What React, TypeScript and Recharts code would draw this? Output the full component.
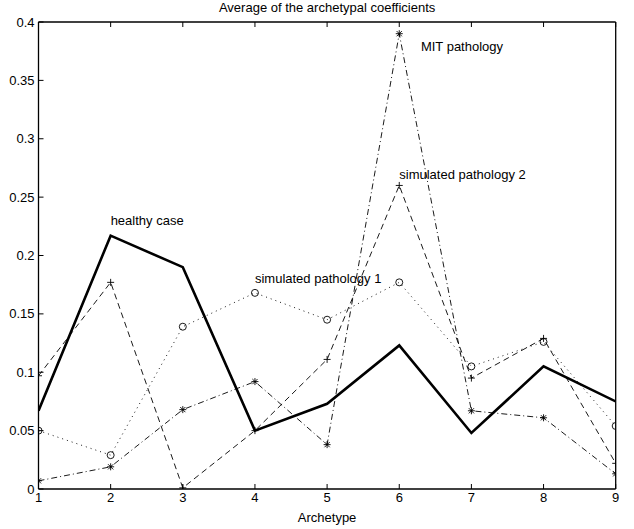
import React from 'react'
import { Label, Line, LineChart, ReferenceDot, XAxis, YAxis } from 'recharts'

const archetypes = [1, 2, 3, 4, 5, 6, 7, 8, 9]
const healthyCase = [0.067, 0.217, 0.19, 0.05, 0.073, 0.123, 0.048, 0.105, 0.075]
const simulatedPathology1 = [0.05, 0.029, 0.139, 0.168, 0.145, 0.177, 0.105, 0.126, 0.054]
const simulatedPathology2 = [0.097, 0.177, 0.001, 0.05, 0.111, 0.26, 0.095, 0.129, 0.022]
const mitPathology = [0.007, 0.019, 0.068, 0.092, 0.038, 0.39, 0.067, 0.061, 0.013]
const yTicks = [0, 0.05, 0.1, 0.15, 0.2, 0.25, 0.3, 0.35, 0.4]

const annotations = [
  { x: 2.0, y: 0.23, text: 'healthy case' },
  { x: 4.0, y: 0.18, text: 'simulated pathology 1' },
  { x: 6.3, y: 0.379, text: 'MIT pathology' },
  { x: 6.0, y: 0.269, text: 'simulated pathology 2' },
]

const data = archetypes.map((x, i) => ({
  x,
  healthy: healthyCase[i],
  sim1: simulatedPathology1[i],
  sim2: simulatedPathology2[i],
  mit: mitPathology[i],
}))

const FONT = '"Liberation Sans", Arial, sans-serif'
const tickStyle = { fill: '#000', fontSize: 13, fontFamily: FONT }

const CircleDot = (props: any) => (
  <circle key={props.key} cx={props.cx} cy={props.cy} r={3.5} fill="none" stroke="#000" strokeWidth={0.9} />
)

const PlusDot = (props: any) => {
  const { cx, cy } = props
  return (
    <g key={props.key} stroke="#000" strokeWidth={0.9}>
      <line x1={cx - 3.5} y1={cy} x2={cx + 3.5} y2={cy} />
      <line x1={cx} y1={cy - 3.5} x2={cx} y2={cy + 3.5} />
    </g>
  )
}

const StarDot = (props: any) => {
  const { cx, cy } = props
  const d = 2.6
  return (
    <g key={props.key} stroke="#000" strokeWidth={0.9}>
      <line x1={cx - 3.5} y1={cy} x2={cx + 3.5} y2={cy} />
      <line x1={cx} y1={cy - 3.5} x2={cx} y2={cy + 3.5} />
      <line x1={cx - d} y1={cy - d} x2={cx + d} y2={cy + d} />
      <line x1={cx - d} y1={cy + d} x2={cx + d} y2={cy - d} />
    </g>
  )
}

const AnnotationText = ({ viewBox, value }: any) => (
  <text x={viewBox.x} y={viewBox.y} dy="0.35em" fontSize={13} fontFamily={FONT} fill="#000" textAnchor="start">
    {value}
  </text>
)

export default function App() {
  return (
    <div style={{ position: 'absolute', left: 0, top: 0, background: '#fff' }}>
      <LineChart width={634} height={529} data={data} margin={{ top: 0, right: 0, bottom: 0, left: 0 }}>
        <XAxis
          dataKey="x"
          type="number"
          domain={[1, 9]}
          ticks={archetypes}
          height={40}
          tickSize={-5}
          tickMargin={9}
          tick={tickStyle}
          axisLine={{ stroke: '#000', strokeWidth: 1.3 }}
          tickLine={{ stroke: '#000' }}
          allowDataOverflow
        >
          <Label value="Archetype" position="insideBottom" offset={7} fill="#000" fontSize={13} fontFamily={FONT} />
        </XAxis>
        <XAxis
          xAxisId="top"
          orientation="top"
          dataKey="x"
          type="number"
          domain={[1, 9]}
          ticks={archetypes}
          height={22}
          tickSize={-5}
          tickFormatter={() => ''}
          axisLine={{ stroke: '#000', strokeWidth: 1.3 }}
          tickLine={{ stroke: '#000' }}
        >
          <Label value="Average of the archetypal coefficients" position="insideTop" offset={3} fill="#000" fontSize={13} fontFamily={FONT} />
        </XAxis>
        <YAxis
          type="number"
          domain={[0, 0.4]}
          ticks={yTicks}
          width={38.5}
          tickSize={-5}
          tickMargin={9}
          tick={tickStyle}
          tickFormatter={(v: number) => String(v)}
          axisLine={{ stroke: '#000', strokeWidth: 1.3 }}
          tickLine={{ stroke: '#000' }}
          allowDataOverflow
        />
        <YAxis
          yAxisId="right"
          orientation="right"
          type="number"
          domain={[0, 0.4]}
          ticks={yTicks}
          width={18.3}
          tickSize={-5}
          tickFormatter={() => ''}
          axisLine={{ stroke: '#000', strokeWidth: 1.3 }}
          tickLine={{ stroke: '#000' }}
        />
        <Line dataKey="sim1" type="linear" stroke="#000" strokeWidth={0.9} strokeDasharray="1 4" dot={CircleDot} isAnimationActive={false} />
        <Line dataKey="sim2" type="linear" stroke="#000" strokeWidth={0.9} strokeDasharray="6 4" dot={PlusDot} isAnimationActive={false} />
        <Line dataKey="mit" type="linear" stroke="#000" strokeWidth={0.9} strokeDasharray="6 3 1 3" dot={StarDot} isAnimationActive={false} />
        <Line dataKey="healthy" type="linear" stroke="#000" strokeWidth={2.6} dot={false} isAnimationActive={false} />
        {annotations.map((a) => (
          <ReferenceDot key={a.text} x={a.x} y={a.y} r={0} fill="none" stroke="none" label={<AnnotationText value={a.text} />} />
        ))}
      </LineChart>
    </div>
  )
}
